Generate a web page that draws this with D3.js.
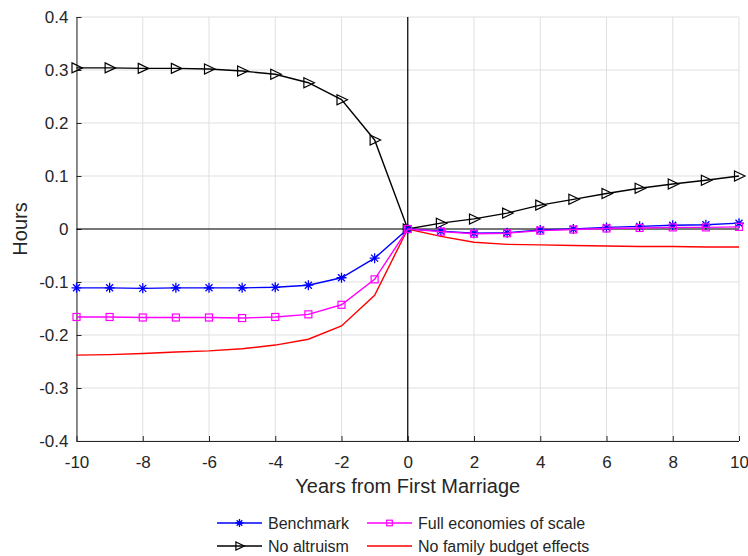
<!DOCTYPE html>
<html>
<head>
<meta charset="utf-8">
<script src="https://cdn.jsdelivr.net/npm/d3@7"></script>
<style>
  body { margin: 0; background: #fff; }
  text { font-family: "Liberation Sans", Arial, sans-serif; fill: #262626; }
</style>
</head>
<body>
<script>
// years relative to first marriage
var years = d3.range(-10, 11);

var benchmark = [-0.111, -0.111, -0.112, -0.111, -0.111, -0.111, -0.110, -0.106, -0.092, -0.055, 0,
    -0.004, -0.008, -0.007, -0.002, 0.000, 0.003, 0.005, 0.007, 0.008, 0.011];
var fullScale = [-0.166, -0.166, -0.167, -0.167, -0.167, -0.168, -0.166, -0.161, -0.143, -0.095, 0,
    -0.005, -0.009, -0.008, -0.003, -0.001, 0.001, 0.002, 0.003, 0.003, 0.004];
var noAltruism = [0.304, 0.304, 0.303, 0.303, 0.302, 0.298, 0.292, 0.276, 0.244, 0.168, 0,
    0.011, 0.019, 0.030, 0.045, 0.056, 0.067, 0.077, 0.085, 0.092, 0.100];
var noBudget = [-0.238, -0.237, -0.235, -0.232, -0.230, -0.226, -0.219, -0.208, -0.183, -0.125, 0,
    -0.014, -0.025, -0.029, -0.030, -0.031, -0.032, -0.033, -0.033, -0.034, -0.034];

var xTicks = [-10, -8, -6, -4, -2, 0, 2, 4, 6, 8, 10];
var yTicks = [-0.4, -0.3, -0.2, -0.1, 0, 0.1, 0.2, 0.3, 0.4];
var xTickLabels = ["-10", "-8", "-6", "-4", "-2", "0", "2", "4", "6", "8", "10"];
var yTickLabels = ["-0.4", "-0.3", "-0.2", "-0.1", "0", "0.1", "0.2", "0.3", "0.4"];

var series = [
    { name: "Benchmark", values: benchmark, color: "#0000ff", marker: "star" },
    { name: "No altruism", values: noAltruism, color: "#000000", marker: "triangle" },
    { name: "Full economies of scale", values: fullScale, color: "#ff00ff", marker: "square" },
    { name: "No family budget effects", values: noBudget, color: "#ff0000", marker: "none" }
];

var W = 748, H = 556;
var padL = 76.5, padR = 739, padT = 17, padB = 441;

var xScale = d3.scaleLinear().domain([-10, 10]).range([padL, padR]);
var yScale = d3.scaleLinear().domain([-0.4, 0.4]).range([padB, padT]);

var svg = d3.select("body").append("svg")
    .attr("width", W)
    .attr("height", H);

// grid
svg.append("g").selectAll("line").data(xTicks).enter().append("line")
    .attr("x1", function (d) { return xScale(d); })
    .attr("x2", function (d) { return xScale(d); })
    .attr("y1", padT).attr("y2", padB)
    .attr("stroke", "#dfdfdf").attr("stroke-width", 1);
svg.append("g").selectAll("line").data(yTicks).enter().append("line")
    .attr("x1", padL).attr("x2", padR)
    .attr("y1", function (d) { return yScale(d); })
    .attr("y2", function (d) { return yScale(d); })
    .attr("stroke", "#dfdfdf").attr("stroke-width", 1);

// axes
var xAxis = d3.axisBottom(xScale).tickValues(xTicks).tickSize(-5).tickPadding(15)
    .tickFormat(function (d, i) { return xTickLabels[i]; });
var yAxis = d3.axisLeft(yScale).tickValues(yTicks).tickSize(-5).tickPadding(8)
    .tickFormat(function (d, i) { return yTickLabels[i]; });

var gx = svg.append("g").attr("transform", "translate(0," + padB + ")").call(xAxis);
var gy = svg.append("g").attr("transform", "translate(" + padL + ",0)").call(yAxis);
[gx, gy].forEach(function (g) {
    g.select(".domain").attr("stroke", "#262626");
    g.selectAll(".tick line").attr("stroke", "#262626");
    g.selectAll("text").style("font-size", "17px").attr("fill", "#262626")
        .style("font-family", "'Liberation Sans', Arial, sans-serif");
});
gx.selectAll("text").attr("dy", "0.71em");
gx.select(".domain").attr("d", "M" + padL + ",0.5H" + padR);
gy.select(".domain").attr("d", "M0.5," + padB + "V" + padT);

// zero lines
svg.append("line")
    .attr("x1", padL).attr("x2", padR)
    .attr("y1", yScale(0)).attr("y2", yScale(0))
    .attr("stroke", "#000").attr("stroke-width", 1.2);
svg.append("line")
    .attr("x1", xScale(0)).attr("x2", xScale(0))
    .attr("y1", padT).attr("y2", padB)
    .attr("stroke", "#000").attr("stroke-width", 1.2);

// axis titles
svg.append("text")
    .attr("x", (padL + padR) / 2).attr("y", 493)
    .attr("text-anchor", "middle")
    .style("font-size", "20px")
    .text("Years from First Marriage");
svg.append("text")
    .attr("transform", "translate(27," + yScale(0) + ") rotate(-90)")
    .attr("text-anchor", "middle")
    .style("font-size", "20px")
    .text("Hours");

function drawMarker(g, type, color, size) {
    var k = size || 1;
    if (type === "star") {
        var s = 5 * k;
        g.append("path")
            .attr("d", "M" + (-s) + ",0H" + s + "M0," + (-s) + "V" + s +
                "M" + (-s * 0.7) + "," + (-s * 0.7) + "L" + (s * 0.7) + "," + (s * 0.7) +
                "M" + (-s * 0.7) + "," + (s * 0.7) + "L" + (s * 0.7) + "," + (-s * 0.7))
            .attr("stroke", color).attr("stroke-width", 1.3).attr("fill", "none");
    } else if (type === "square") {
        g.append("rect").attr("x", -3.5 * k).attr("y", -3.5 * k)
            .attr("width", 7 * k).attr("height", 7 * k)
            .attr("stroke", color).attr("stroke-width", 1.2).attr("fill", "none");
    } else if (type === "triangle") {
        g.append("path").attr("d", "M" + (-4.5 * k) + "," + (-5 * k) + "L" + (6 * k) + ",0L" +
                (-4.5 * k) + "," + (5 * k) + "Z")
            .attr("stroke", color).attr("stroke-width", 1.2).attr("fill", "none");
    }
}

var line = d3.line()
    .x(function (d, i) { return xScale(years[i]); })
    .y(function (d) { return yScale(d); });

// magenta sits on top of blue in the reference
var drawOrder = [series[3], series[1], series[0], series[2]];
drawOrder.forEach(function (s) {
    svg.append("path")
        .attr("d", line(s.values))
        .attr("fill", "none")
        .attr("stroke", s.color)
        .attr("stroke-width", 1.4);
    if (s.marker !== "none") {
        svg.append("g").selectAll("g").data(s.values).enter().append("g")
            .attr("transform", function (d, i) {
                return "translate(" + xScale(years[i]) + "," + yScale(d) + ")";
            })
            .each(function () { drawMarker(d3.select(this), s.marker, s.color, 1); });
    }
});

// legend
var legendPos = [
    { x: 217, y: 523 }, { x: 217, y: 546 }, { x: 367, y: 523 }, { x: 367, y: 546 }
];
series.forEach(function (s, i) {
    var p = legendPos[i];
    var g = svg.append("g");
    g.append("line").attr("x1", p.x).attr("x2", p.x + 45)
        .attr("y1", p.y).attr("y2", p.y)
        .attr("stroke", s.color).attr("stroke-width", 1.4);
    var m = g.append("g").attr("transform", "translate(" + (p.x + 22.5) + "," + p.y + ")");
    drawMarker(m, s.marker, s.color, 0.8);
    g.append("text").attr("x", p.x + 51).attr("y", p.y + 6)
        .style("font-size", "16px")
        .attr("fill", "#000")
        .text(s.name);
});
</script>
</body>
</html>
